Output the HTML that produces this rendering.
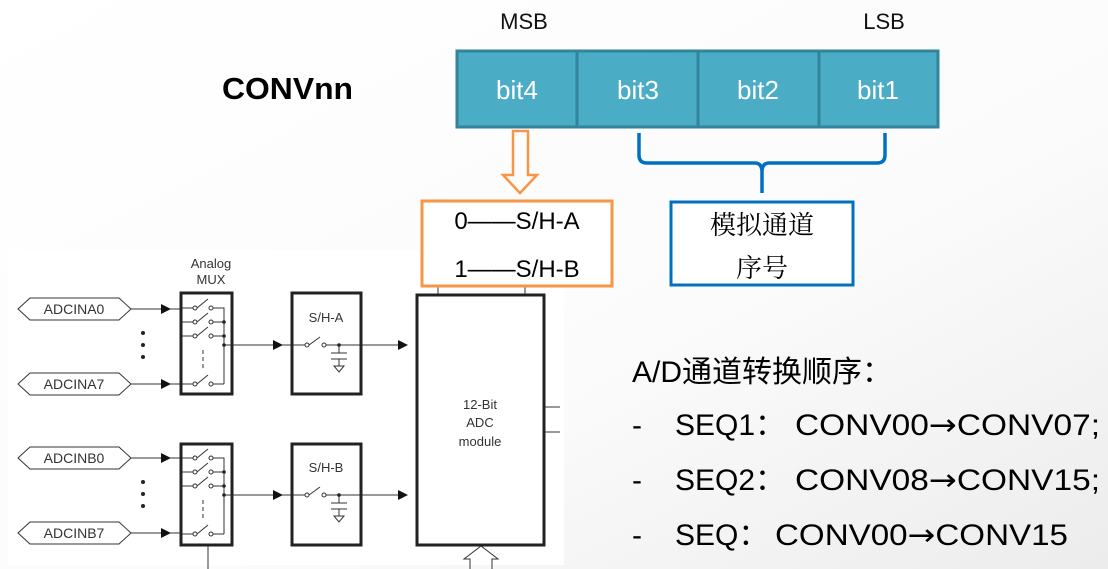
<!DOCTYPE html>
<html><head><meta charset="utf-8"><style>
html,body{margin:0;padding:0;background:#fafafa;}
svg{display:block;}
</style></head><body>
<svg width="1108" height="569" viewBox="0 0 1108 569" xmlns="http://www.w3.org/2000/svg" font-family="'Liberation Sans', 'Noto Sans CJK SC', sans-serif">
<defs>
<linearGradient id="bg" x1="0" y1="0" x2="1" y2="1">
<stop offset="0" stop-color="#ffffff"/><stop offset="0.6" stop-color="#fbfbfb"/><stop offset="1" stop-color="#ececec"/>
</linearGradient>
<marker id="ar" markerWidth="10" markerHeight="10" refX="9" refY="5" orient="auto" markerUnits="userSpaceOnUse"><path d="M0,0 L10,5 L0,10 Z" fill="#111"/></marker>
</defs>
<rect width="1108" height="569" fill="url(#bg)"/>

<!-- header -->
<text x="222" y="99" font-size="31" font-weight="bold" fill="#000" textLength="131" lengthAdjust="spacingAndGlyphs">CONVnn</text>
<text x="524" y="29" font-size="22" text-anchor="middle" fill="#111">MSB</text>
<text x="884" y="29" font-size="22" text-anchor="middle" fill="#111">LSB</text>

<!-- register -->
<g stroke="#31849b" stroke-width="3" fill="#4bacc6">
<rect x="457" y="51" width="120" height="76"/>
<rect x="577" y="51" width="121" height="76"/>
<rect x="698" y="51" width="121" height="76"/>
<rect x="819" y="51" width="119" height="76"/>
</g>
<g font-size="26" fill="#fff" text-anchor="middle">
<text x="517" y="99">bit4</text><text x="638" y="99">bit3</text><text x="758" y="99">bit2</text><text x="878" y="99">bit1</text>
</g>

<!-- orange arrow -->
<path d="M513,131 L528,131 L528,175 L537,175 L520,193 L503,175 L513,175 Z" fill="none" stroke="#f79646" stroke-width="2.5"/>

<!-- blue brace -->
<path d="M639,133 L639,155 Q639,163 647,163 L755,163 Q762,163 762,172 L762,193 M762,172 Q762,163 769,163 L877,163 Q885,163 885,155 L885,133" fill="none" stroke="#0070c0" stroke-width="3.5"/>
<rect x="671" y="202" width="182" height="83" fill="#fff" stroke="#0070c0" stroke-width="3"/>
<text x="762" y="234" font-size="26" text-anchor="middle" fill="#000" font-family="'Noto Serif CJK SC', serif">模拟通道</text>
<text x="762" y="277" font-size="26" text-anchor="middle" fill="#000" font-family="'Noto Serif CJK SC', serif">序号</text>

<!-- right text -->
<g font-size="30" fill="#000">
<text x="632" y="382">A/D通道转换顺序：</text>
<text x="632" y="435">-</text><text x="675" y="435">SEQ1：</text><text x="795" y="435" textLength="305" lengthAdjust="spacingAndGlyphs">CONV00<tspan font-family="'DejaVu Sans', sans-serif">→</tspan>CONV07;</text>
<text x="632" y="490">-</text><text x="675" y="490">SEQ2：</text><text x="795" y="490" textLength="305" lengthAdjust="spacingAndGlyphs">CONV08<tspan font-family="'DejaVu Sans', sans-serif">→</tspan>CONV15;</text>
<text x="632" y="545">-</text><text x="675" y="545">SEQ：</text><text x="775" y="545" textLength="293" lengthAdjust="spacingAndGlyphs">CONV00<tspan font-family="'DejaVu Sans', sans-serif">→</tspan>CONV15</text>
</g>

<!-- block diagram -->
<rect x="8" y="250" width="556" height="315" fill="#fff"/>
<g font-size="13" fill="#333" text-anchor="middle">
<text x="211" y="268">Analog</text><text x="211" y="284">MUX</text>
</g>
<g stroke="#333" stroke-width="1" fill="#fff">
<path d="M18,309 L30,298 L119,298 L131,309 L119,320 L30,320 Z"/>
<path d="M18,384 L30,373 L119,373 L131,384 L119,395 L30,395 Z"/>
<path d="M18,458 L30,447 L119,447 L131,458 L119,469 L30,469 Z"/>
<path d="M18,533 L30,522 L119,522 L131,533 L119,544 L30,544 Z"/>
</g>
<g font-size="14" fill="#333" text-anchor="middle">
<text x="74" y="314">ADCINA0</text><text x="74" y="389">ADCINA7</text>
<text x="74" y="463">ADCINB0</text><text x="74" y="538">ADCINB7</text>
</g>
<g fill="#222">
<circle cx="143" cy="333" r="2"/><circle cx="143" cy="345" r="2"/><circle cx="143" cy="357" r="2"/>
<circle cx="143" cy="482" r="2"/><circle cx="143" cy="494" r="2"/><circle cx="143" cy="506" r="2"/>
</g>
<g stroke="#333" stroke-width="1" fill="none">
<line x1="131" y1="309" x2="170" y2="309" marker-end="url(#ar)"/>
<line x1="131" y1="384" x2="170" y2="384" marker-end="url(#ar)"/>
<line x1="131" y1="458" x2="170" y2="458" marker-end="url(#ar)"/>
<line x1="131" y1="533" x2="170" y2="533" marker-end="url(#ar)"/>
<line x1="170" y1="309" x2="182" y2="309"/><line x1="170" y1="384" x2="182" y2="384"/>
<line x1="170" y1="458" x2="182" y2="458"/><line x1="170" y1="533" x2="182" y2="533"/>
</g>
<g stroke="#333" stroke-width="1" fill="none">
<g id="muxA">
<path d="M182,308 L193,308 M197,308 L208,299 M213,308 L224,308 L224,384"/>
<path d="M182,322 L193,322 M197,322 L208,313 M213,322 L224,322"/>
<path d="M182,336 L193,336 M197,336 L208,327 M213,336 L224,336"/>
<path d="M182,384 L193,384 M197,384 L208,375 M213,384 L224,384"/>
<line x1="203" y1="350" x2="203" y2="370" stroke-dasharray="4,3"/>
<circle cx="195" cy="308" r="2" fill="#fff"/><circle cx="211" cy="308" r="2" fill="#fff"/>
<circle cx="195" cy="322" r="2" fill="#fff"/><circle cx="211" cy="322" r="2" fill="#fff"/>
<circle cx="195" cy="336" r="2" fill="#fff"/><circle cx="211" cy="336" r="2" fill="#fff"/>
<circle cx="195" cy="384" r="2" fill="#fff"/><circle cx="211" cy="384" r="2" fill="#fff"/>
</g>
<use href="#muxA" transform="translate(0,150)"/>
<line x1="224" y1="345" x2="282" y2="345" marker-end="url(#ar)"/>
<line x1="282" y1="345" x2="292" y2="345"/>
<line x1="224" y1="495" x2="282" y2="495" marker-end="url(#ar)"/>
<line x1="282" y1="495" x2="292" y2="495"/>
<g id="shA">
<path d="M292,345 L305,345 M309,345 L320,337 M326,345 L361,345"/>
<circle cx="307" cy="345" r="2" fill="#fff"/><circle cx="324" cy="345" r="2" fill="#fff"/>
<path d="M339,345 L339,353 M331,353 L347,353 M331,359 L347,359 M339,359 L339,366 M334,366 L344,366 L339,372 Z"/>
</g>
<use href="#shA" transform="translate(0,150)"/>
<line x1="361" y1="345" x2="407" y2="345" marker-end="url(#ar)"/>
<line x1="361" y1="495" x2="407" y2="495" marker-end="url(#ar)"/>
<line x1="544" y1="407" x2="560" y2="407"/><line x1="544" y1="432" x2="560" y2="432"/>
<line x1="438" y1="287" x2="438" y2="295"/><line x1="525" y1="287" x2="525" y2="295"/>
<line x1="208" y1="545" x2="208" y2="569"/>
<path d="M470,569 L470,559 L464,559 L481,546 L498,559 L492,559 L492,569"/>
</g>
<g fill="#222" stroke="none">
<circle cx="224" cy="322" r="1.8"/><circle cx="224" cy="336" r="1.8"/><circle cx="224" cy="345" r="1.8"/>
<circle cx="224" cy="472" r="1.8"/><circle cx="224" cy="486" r="1.8"/><circle cx="224" cy="495" r="1.8"/>
<circle cx="339" cy="345" r="1.8"/><circle cx="339" cy="495" r="1.8"/>
</g>
<g stroke="#222" stroke-width="3" fill="none">
<rect x="181" y="293" width="51" height="101"/>
<rect x="181" y="444" width="51" height="101"/>
<rect x="292" y="293" width="69" height="101"/>
<rect x="292" y="444" width="69" height="101"/>
<rect x="417" y="295" width="127" height="250"/>
</g>
<g font-size="13" fill="#333" text-anchor="middle">
<text x="326" y="322">S/H-A</text><text x="326" y="472">S/H-B</text>
<text x="480" y="409">12-Bit</text><text x="480" y="427">ADC</text><text x="480" y="446">module</text>
</g>

<!-- orange box on top -->
<rect x="422" y="201" width="190" height="85" fill="#fff" stroke="#f79646" stroke-width="3"/>
<text x="517" y="229" font-size="24" text-anchor="middle" fill="#000">0——S/H-A</text>
<text x="517" y="277" font-size="24" text-anchor="middle" fill="#000">1——S/H-B</text>
</svg>
</body></html>
